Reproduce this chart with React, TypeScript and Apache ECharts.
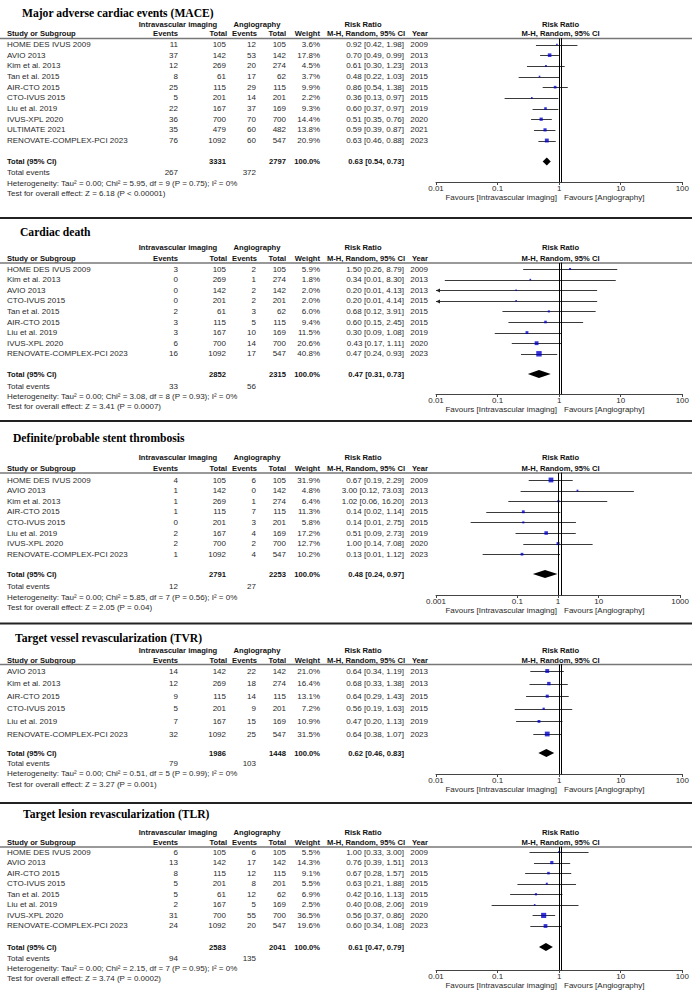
import React, { useEffect, useRef } from "react";
import * as echarts from "echarts";

// ---------- MACE ----------
const maceTitle = "Major adverse cardiac events (MACE)";
const maceStudies = ["HOME DES IVUS 2009", "AVIO 2013", "Kim et al. 2013", "Tan et al. 2015", "AIR-CTO 2015", "CTO-IVUS 2015", "Liu et al. 2019", "IVUS-XPL 2020", "ULTIMATE 2021", "RENOVATE-COMPLEX-PCI 2023"];
const maceYears = [2009, 2013, 2013, 2015, 2015, 2015, 2019, 2020, 2021, 2023];
const maceExpEvents = [11, 37, 12, 8, 25, 5, 22, 36, 35, 76];
const maceExpTotals = [105, 142, 269, 61, 115, 201, 167, 700, 479, 1092];
const maceCtrlEvents = [12, 53, 20, 17, 29, 14, 37, 70, 60, 60];
const maceCtrlTotals = [105, 142, 274, 62, 115, 201, 169, 700, 482, 547];
const maceWeights = [3.6, 17.8, 4.5, 3.7, 9.9, 2.2, 9.3, 14.4, 13.8, 20.9];
const maceRR = [0.92, 0.7, 0.61, 0.48, 0.86, 0.36, 0.6, 0.51, 0.59, 0.63];
const maceLower = [0.42, 0.49, 0.3, 0.22, 0.54, 0.13, 0.37, 0.35, 0.39, 0.46];
const maceUpper = [1.98, 0.99, 1.23, 1.03, 1.38, 0.97, 0.97, 0.76, 0.87, 0.88];
const maceSummary = [3331, 2797, 267, 372, 0.63, 0.54, 0.73]; // expTotal, ctrlTotal, expEvents, ctrlEvents, RR, lower, upper
const maceHet = "Heterogeneity: Tau\u00b2 = 0.00; Chi\u00b2 = 5.95, df = 9 (P = 0.75); I\u00b2 = 0%";
const maceTest = "Test for overall effect: Z = 6.18 (P < 0.00001)";
const maceTicks = ["0.01", "0.1", "1", "10", "100"];

// ---------- Cardiac death ----------
const cdTitle = "Cardiac death";
const cdStudies = ["HOME DES IVUS 2009", "Kim et al. 2013", "AVIO 2013", "CTO-IVUS 2015", "Tan et al. 2015", "AIR-CTO 2015", "Liu et al. 2019", "IVUS-XPL 2020", "RENOVATE-COMPLEX-PCI 2023"];
const cdYears = [2009, 2013, 2013, 2015, 2015, 2015, 2019, 2020, 2023];
const cdExpEvents = [3, 0, 0, 0, 2, 3, 3, 6, 16];
const cdExpTotals = [105, 269, 142, 201, 61, 115, 167, 700, 1092];
const cdCtrlEvents = [2, 1, 2, 2, 3, 5, 10, 14, 17];
const cdCtrlTotals = [105, 274, 142, 201, 62, 115, 169, 700, 547];
const cdWeights = [5.9, 1.8, 2.0, 2.0, 6.0, 9.4, 11.5, 20.6, 40.8];
const cdRR = [1.5, 0.34, 0.2, 0.2, 0.68, 0.6, 0.3, 0.43, 0.47];
const cdLower = [0.26, 0.0139, 0.0097, 0.0097, 0.12, 0.15, 0.09, 0.17, 0.24];
const cdUpper = [8.79, 8.3, 4.13, 4.14, 3.91, 2.45, 1.08, 1.11, 0.93];
const cdSummary = [2852, 2315, 33, 56, 0.47, 0.31, 0.73];
const cdHet = "Heterogeneity: Tau\u00b2 = 0.00; Chi\u00b2 = 3.08, df = 8 (P = 0.93); I\u00b2 = 0%";
const cdTest = "Test for overall effect: Z = 3.41 (P = 0.0007)";
const cdTicks = ["0.01", "0.1", "1", "10", "100"];

// ---------- Stent thrombosis ----------
const stTitle = "Definite/probable stent thrombosis";
const stStudies = ["HOME DES IVUS 2009", "AVIO 2013", "Kim et al. 2013", "AIR-CTO 2015", "CTO-IVUS 2015", "Liu et al. 2019", "IVUS-XPL 2020", "RENOVATE-COMPLEX-PCI 2023"];
const stYears = [2009, 2013, 2013, 2015, 2015, 2019, 2020, 2023];
const stExpEvents = [4, 1, 1, 1, 0, 2, 2, 1];
const stExpTotals = [105, 142, 269, 115, 201, 167, 700, 1092];
const stCtrlEvents = [6, 0, 1, 7, 3, 4, 2, 4];
const stCtrlTotals = [105, 142, 274, 115, 201, 169, 700, 547];
const stWeights = [31.9, 4.8, 6.4, 11.3, 5.8, 17.2, 12.7, 10.2];
const stRR = [0.67, 3.0, 1.02, 0.14, 0.14, 0.51, 1.0, 0.13];
const stLower = [0.19, 0.12, 0.06, 0.0172, 0.0071, 0.09, 0.14, 0.014];
const stUpper = [2.29, 73.03, 16.2, 1.14, 2.75, 2.73, 7.08, 1.12];
const stSummary = [2791, 2253, 12, 27, 0.48, 0.24, 0.97];
const stHet = "Heterogeneity: Tau\u00b2 = 0.00; Chi\u00b2 = 5.85, df = 7 (P = 0.56); I\u00b2 = 0%";
const stTest = "Test for overall effect: Z = 2.05 (P = 0.04)";
const stTicks = ["0.001", "0.1", "1", "10", "1000"];

// ---------- TVR ----------
const tvrTitle = "Target vessel revascularization (TVR)";
const tvrStudies = ["AVIO 2013", "Kim et al. 2013", "AIR-CTO 2015", "CTO-IVUS 2015", "Liu et al. 2019", "RENOVATE-COMPLEX-PCI 2023"];
const tvrYears = [2013, 2013, 2015, 2015, 2019, 2023];
const tvrExpEvents = [14, 12, 9, 5, 7, 32];
const tvrExpTotals = [142, 269, 115, 201, 167, 1092];
const tvrCtrlEvents = [22, 18, 14, 9, 15, 25];
const tvrCtrlTotals = [142, 274, 115, 201, 169, 547];
const tvrWeights = [21.0, 16.4, 13.1, 7.2, 10.9, 31.5];
const tvrRR = [0.64, 0.68, 0.64, 0.56, 0.47, 0.64];
const tvrLower = [0.34, 0.33, 0.29, 0.19, 0.2, 0.38];
const tvrUpper = [1.19, 1.38, 1.43, 1.63, 1.13, 1.07];
const tvrSummary = [1986, 1448, 79, 103, 0.62, 0.46, 0.83];
const tvrHet = "Heterogeneity: Tau\u00b2 = 0.00; Chi\u00b2 = 0.51, df = 5 (P = 0.99); I\u00b2 = 0%";
const tvrTest = "Test for overall effect: Z = 3.27 (P = 0.001)";
const tvrTicks = ["0.01", "0.1", "1", "10", "100"];

// ---------- TLR ----------
const tlrTitle = "Target lesion revascularization (TLR)";
const tlrStudies = ["HOME DES IVUS 2009", "AVIO 2013", "AIR-CTO 2015", "CTO-IVUS 2015", "Tan et al. 2015", "Liu et al. 2019", "IVUS-XPL 2020", "RENOVATE-COMPLEX-PCI 2023"];
const tlrYears = [2009, 2013, 2015, 2015, 2015, 2019, 2020, 2023];
const tlrExpEvents = [6, 13, 8, 5, 5, 2, 31, 24];
const tlrExpTotals = [105, 142, 115, 201, 61, 167, 700, 1092];
const tlrCtrlEvents = [6, 17, 12, 8, 12, 5, 55, 20];
const tlrCtrlTotals = [105, 142, 115, 201, 62, 169, 700, 547];
const tlrWeights = [5.5, 14.3, 9.1, 5.5, 6.9, 2.5, 36.5, 19.6];
const tlrRR = [1.0, 0.76, 0.67, 0.63, 0.42, 0.4, 0.56, 0.6];
const tlrLower = [0.33, 0.39, 0.28, 0.21, 0.16, 0.08, 0.37, 0.34];
const tlrUpper = [3.0, 1.51, 1.57, 1.88, 1.13, 2.06, 0.86, 1.08];
const tlrSummary = [2583, 2041, 94, 135, 0.61, 0.47, 0.79];
const tlrHet = "Heterogeneity: Tau\u00b2 = 0.00; Chi\u00b2 = 2.15, df = 7 (P = 0.95); I\u00b2 = 0%";
const tlrTest = "Test for overall effect: Z = 3.74 (P = 0.0002)";
const tlrTicks = ["0.01", "0.1", "1", "10", "100"];

// no-effect reference value of a risk ratio
const NULL_EFFECT = 1;

const PANELS = [
  { title: maceTitle, studies: maceStudies, years: maceYears, ee: maceExpEvents, et: maceExpTotals, ce: maceCtrlEvents, ct: maceCtrlTotals, w: maceWeights, rr: maceRR, lo: maceLower, hi: maceUpper, sum: maceSummary, het: maceHet, test: maceTest, ticks: maceTicks },
  { title: cdTitle, studies: cdStudies, years: cdYears, ee: cdExpEvents, et: cdExpTotals, ce: cdCtrlEvents, ct: cdCtrlTotals, w: cdWeights, rr: cdRR, lo: cdLower, hi: cdUpper, sum: cdSummary, het: cdHet, test: cdTest, ticks: cdTicks },
  { title: stTitle, studies: stStudies, years: stYears, ee: stExpEvents, et: stExpTotals, ce: stCtrlEvents, ct: stCtrlTotals, w: stWeights, rr: stRR, lo: stLower, hi: stUpper, sum: stSummary, het: stHet, test: stTest, ticks: stTicks },
  { title: tvrTitle, studies: tvrStudies, years: tvrYears, ee: tvrExpEvents, et: tvrExpTotals, ce: tvrCtrlEvents, ct: tvrCtrlTotals, w: tvrWeights, rr: tvrRR, lo: tvrLower, hi: tvrUpper, sum: tvrSummary, het: tvrHet, test: tvrTest, ticks: tvrTicks },
  { title: tlrTitle, studies: tlrStudies, years: tlrYears, ee: tlrExpEvents, et: tlrExpTotals, ce: tlrCtrlEvents, ct: tlrCtrlTotals, w: tlrWeights, rr: tlrRR, lo: tlrLower, hi: tlrUpper, sum: tlrSummary, het: tlrHet, test: tlrTest, ticks: tlrTicks },
];

// layout (pixels)
const LAYOUT = [
  { titleX: 22, titleY: 13, h1: 24, h2: 33, line: 38.5, row0: 44.5, sp: 10.67, total: 161.5, ev: 172.5, het: 183, test: 193, axis: 182, fav: 197, sep: 218 },
  { titleX: 20, titleY: 232, h1: 247, h2: 258, line: 263, row0: 269, sp: 10.6, total: 374, ev: 386, het: 396, test: 406, axis: 394, fav: 409, sep: 421 },
  { titleX: 13, titleY: 438, h1: 457, h2: 468, line: 473, row0: 480, sp: 10.6, total: 574, ev: 586, het: 597, test: 607, axis: 595, fav: 610, sep: 623.5 },
  { titleX: 15, titleY: 638, h1: 650, h2: 660, line: 664.5, row0: 671, sp: 12.6, total: 753, ev: 763, het: 773.5, test: 784, axis: 774, fav: 789, sep: 803 },
  { titleX: 23, titleY: 814, h1: 832, h2: 842, line: 847, row0: 852, sp: 10.57, total: 947, ev: 958, het: 968, test: 978, axis: 970, fav: 985.5, sep: -1 },
];

const SANS = '"Liberation Sans", Arial, sans-serif';
const SERIF = '"Liberation Serif", "Times New Roman", serif';
const PLOT_LEFT = 436;
const PLOT_W = 249;
const ONE_X = 560.5;

const COL = { study: 7, expEv: 178, expTot: 226, ctrlEv: 256, ctrlTot: 286, weight: 320, rr: 404, year: 428 };

// the log axis can drop a value whose log is 0; nudge it imperceptibly (< 0.02 px)
const lv = (v: number) => (v === 1 ? 1.0005 : v);

function txt(x: number, y: number, text: string, o: any = {}) {
  const align = o.align || "left";
  return {
    type: "text",
    x,
    y,
    silent: true,
    style: {
      text,
      fontSize: o.size || (o.bold ? 7.6 : 8),
      fontFamily: o.family || SANS,
      fontWeight: o.bold ? "bold" : "normal",
      fill: o.color || (o.bold ? "#111" : "#2a2a2a"),
      align,
      textAlign: align,
      verticalAlign: "middle",
      textVerticalAlign: "middle",
    },
  };
}

function hline(y: number, color: string, width: number) {
  return { type: "line", silent: true, shape: { x1: 0, y1: y, x2: 692, y2: y }, style: { stroke: color, lineWidth: width } };
}

const f2 = (v: number) => v.toFixed(2);
const ciText = (r: number, l: number, h: number) => `${f2(r)} [${f2(l)}, ${f2(h)}]`;

function buildOption() {
  const elements: any[] = [];
  const grids: any[] = [];
  const xAxes: any[] = [];
  const yAxes: any[] = [];
  const series: any[] = [];

  PANELS.forEach((p, i) => {
    const L = LAYOUT[i];
    // title
    elements.push(txt(L.titleX, L.titleY, p.title, { family: SERIF, size: 11.6, bold: true, color: "#000" }));
    // header row 1
    elements.push(txt(178, L.h1, "Intravascular imaging", { bold: true, align: "center" }));
    elements.push(txt(257, L.h1, "Angiography", { bold: true, align: "center" }));
    elements.push(txt(363, L.h1, "Risk Ratio", { bold: true, align: "center" }));
    elements.push(txt(ONE_X, L.h1, "Risk Ratio", { bold: true, align: "center" }));
    // header row 2
    elements.push(txt(COL.study, L.h2, "Study or Subgroup", { bold: true }));
    elements.push(txt(COL.expEv, L.h2, "Events", { bold: true, align: "right" }));
    elements.push(txt(COL.expTot + 1, L.h2, "Total", { bold: true, align: "right" }));
    elements.push(txt(COL.ctrlEv + 1, L.h2, "Events", { bold: true, align: "right" }));
    elements.push(txt(COL.ctrlTot, L.h2, "Total", { bold: true, align: "right" }));
    elements.push(txt(COL.weight, L.h2, "Weight", { bold: true, align: "right" }));
    elements.push(txt(COL.rr + 1, L.h2, "M-H, Random, 95% CI", { bold: true, align: "right" }));
    elements.push(txt(COL.year, L.h2, "Year", { bold: true, align: "right" }));
    elements.push(txt(ONE_X, L.h2, "M-H, Random, 95% CI", { bold: true, align: "center" }));
    elements.push(hline(L.line, "#777", 1.3));

    // study rows
    p.studies.forEach((s, k) => {
      const y = L.row0 + k * L.sp;
      elements.push(txt(COL.study, y, s));
      elements.push(txt(COL.expEv, y, String(p.ee[k]), { align: "right" }));
      elements.push(txt(COL.expTot, y, String(p.et[k]), { align: "right" }));
      elements.push(txt(COL.ctrlEv, y, String(p.ce[k]), { align: "right" }));
      elements.push(txt(COL.ctrlTot, y, String(p.ct[k]), { align: "right" }));
      elements.push(txt(COL.weight, y, p.w[k].toFixed(1) + "%", { align: "right" }));
      elements.push(txt(COL.rr, y, ciText(p.rr[k], p.lo[k], p.hi[k]), { align: "right" }));
      elements.push(txt(COL.year, y, String(p.years[k]), { align: "right" }));
    });

    // totals
    const [eTot, cTot, eEv, cEv, tRR, tLo, tHi] = p.sum;
    elements.push(txt(COL.study, L.total, "Total (95% CI)", { bold: true }));
    elements.push(txt(COL.expTot, L.total, String(eTot), { bold: true, align: "right" }));
    elements.push(txt(COL.ctrlTot, L.total, String(cTot), { bold: true, align: "right" }));
    elements.push(txt(COL.weight, L.total, "100.0%", { bold: true, align: "right" }));
    elements.push(txt(COL.rr, L.total, ciText(tRR, tLo, tHi), { bold: true, align: "right" }));
    elements.push(txt(COL.study, L.ev, "Total events"));
    elements.push(txt(COL.expEv, L.ev, String(eEv), { align: "right" }));
    elements.push(txt(COL.ctrlEv, L.ev, String(cEv), { align: "right" }));
    elements.push(txt(COL.study, L.het, p.het));
    elements.push(txt(COL.study, L.test, p.test));

    // favours labels
    elements.push(txt(557, L.fav, "Favours [Intravascular imaging]", { align: "right" }));
    elements.push(txt(564, L.fav, "Favours [Angiography]"));

    if (L.sep > 0) elements.push(hline(L.sep, "#222", 2));

    // forest plot grid
    const tickVals = p.ticks.map((t) => parseFloat(t));
    const xMinV = tickVals[0];
    const xMaxV = tickVals[tickVals.length - 1];
    const yTop = (L.line - L.row0) / L.sp;
    const yBottom = (L.axis - L.row0) / L.sp;
    // the y axis line itself is the line of no effect: shift it to RR = 1 on the log scale
    const nullFrac = Math.log10(NULL_EFFECT / xMinV) / Math.log10(xMaxV / xMinV);
    grids.push({ left: PLOT_LEFT, width: PLOT_W, top: L.line, height: L.axis - L.line, containLabel: false });
    xAxes.push({
      gridIndex: i,
      type: "log",
      logBase: 10,
      min: xMinV,
      max: xMaxV,
      axisLine: { show: true, onZero: false, lineStyle: { color: "#444", width: 1 } },
      axisTick: { show: true, customValues: tickVals.map(lv), length: 3, lineStyle: { color: "#444" } },
      minorTick: { show: false },
      splitLine: { show: false },
      axisLabel: {
        customValues: tickVals.map(lv),
        margin: 2,
        fontSize: 8,
        fontFamily: SANS,
        color: "#2a2a2a",
        showMinLabel: true,
        showMaxLabel: true,
        formatter: (v: number) => {
          const lab = p.ticks.find((t) => Math.abs(Math.log10(parseFloat(t)) - Math.log10(v)) < 1e-3);
          return lab || "";
        },
      },
    });
    yAxes.push({
      gridIndex: i,
      type: "value",
      inverse: true,
      min: yTop,
      max: yBottom,
      show: true,
      position: "left",
      offset: -Math.round(PLOT_W * nullFrac),
      axisLine: { show: true, onZero: false, lineStyle: { color: "#000", width: 1 } },
      axisTick: { show: false },
      axisLabel: { show: false },
      splitLine: { show: false },
      z: 5,
    });

    const totalRow = (L.total - L.row0) / L.sp;

    // line of no effect (series fallback): x is the log-midpoint of NULL/10 and NULL*10
    series.push({
      type: "custom",
      xAxisIndex: i,
      yAxisIndex: i,
      clip: false,
      z: 6,
      silent: true,
      encode: { x: 0, y: 1 },
      data: [[NULL_EFFECT * 10, yTop, NULL_EFFECT / 10, yBottom]],
      renderItem: (params: any, api: any) => {
        const hiPt = api.coord([api.value(0), api.value(1)]);
        const loPt = api.coord([api.value(2), api.value(3)]);
        const nx = Math.round((hiPt[0] + loPt[0]) / 2);
        const top = Math.min(hiPt[1], loPt[1]);
        const bottom = Math.max(hiPt[1], loPt[1]);
        return {
          type: "rect",
          shape: { x: nx, y: top, width: 1, height: bottom - top },
          style: { fill: "#000" },
        };
      },
    });
    // confidence intervals
    series.push({
      type: "custom",
      xAxisIndex: i,
      yAxisIndex: i,
      clip: false,
      z: 2,
      silent: true,
      encode: { x: 0, y: 1 },
      data: p.rr.map((r, k) => [lv(r), k, lv(p.lo[k]), lv(p.hi[k])]),
      renderItem: (params: any, api: any) => {
        const y = api.value(1);
        const a = api.coord([api.value(2), y]);
        const b = api.coord([api.value(3), y]);
        const xMin = api.coord([xMinV, y])[0];
        const xMax = api.coord([xMaxV, y])[0];
        let x1 = a[0];
        let x2 = b[0];
        const yy = Math.round(a[1]) + 0.5;
        const leftClip = x1 < xMin - 0.5;
        const rightClip = x2 > xMax + 0.5;
        if (leftClip) x1 = xMin;
        if (rightClip) x2 = xMax;
        const children: any[] = [
          { type: "line", shape: { x1, y1: yy, x2, y2: yy }, style: { stroke: "#3a3a3a", lineWidth: 1 } },
        ];
        if (leftClip) children.push({ type: "polygon", shape: { points: [[x1, yy], [x1 + 4, yy - 2], [x1 + 4, yy + 2]] }, style: { fill: "#222" } });
        if (rightClip) children.push({ type: "polygon", shape: { points: [[x2, yy], [x2 - 4, yy - 2], [x2 - 4, yy + 2]] }, style: { fill: "#222" } });
        return { type: "group", children };
      },
    });
    // study squares
    series.push({
      type: "scatter",
      xAxisIndex: i,
      yAxisIndex: i,
      z: 3,
      symbol: "rect",
      symbolSize: (v: number[]) => Math.max(1.6, 0.85 * Math.sqrt(v[2])),
      itemStyle: { color: "#0000cc" },
      data: p.rr.map((r, k) => [lv(r), k, p.w[k]]),
      silent: true,
    });
    // pooled diamond
    series.push({
      type: "custom",
      xAxisIndex: i,
      yAxisIndex: i,
      z: 4,
      clip: false,
      silent: true,
      encode: { x: 0, y: 1 },
      data: [[lv(tRR), totalRow, lv(tLo), lv(tHi)]],
      renderItem: (params: any, api: any) => {
        const y = api.value(1);
        const c = api.coord([api.value(0), y]);
        const l = api.coord([api.value(2), y]);
        const r = api.coord([api.value(3), y]);
        const h = 4;
        return {
          type: "polygon",
          shape: { points: [[l[0], c[1]], [c[0], c[1] - h], [r[0], c[1]], [c[0], c[1] + h]] },
          style: { fill: "#000" },
        };
      },
    });
  });

  return {
    animation: false,
    backgroundColor: "#fff",
    grid: grids,
    xAxis: xAxes,
    yAxis: yAxes,
    series,
    graphic: { elements },
  };
}

export default function App() {
  const ref = useRef<HTMLDivElement>(null);
  useEffect(() => {
    document.body.style.margin = "0";
    if (!ref.current) return;
    const chart = echarts.init(ref.current, undefined, { renderer: "svg" });
    chart.setOption(buildOption() as any);
    return () => chart.dispose();
  }, []);
  return <div ref={ref} style={{ width: 692, height: 990 }} />;
}
